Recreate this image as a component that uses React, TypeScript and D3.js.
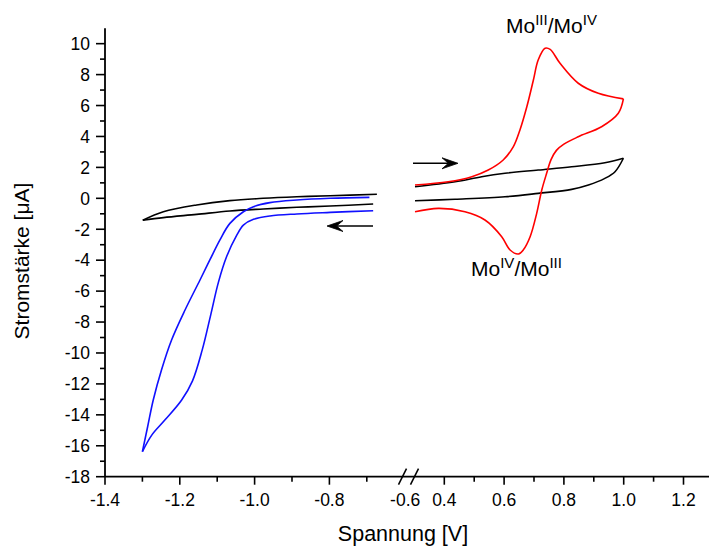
import React from "react";
import * as d3 from "d3";

// ---- Data (Spannung V, Stromstärke µA) ----
const blackLeftUpperV = [-0.673, -0.798, -0.887, -0.977, -1.066, -1.155, -1.244, -1.299];
const blackLeftUpperI = [0.26, 0.17, 0.10, 0.0, -0.15, -0.43, -0.87, -1.42];
const blackLeftLowerV = [-1.299, -1.244, -1.155, -1.066, -0.977, -0.887, -0.798, -0.683];
const blackLeftLowerI = [-1.42, -1.25, -1.04, -0.82, -0.69, -0.58, -0.50, -0.37];

const blueOuterV = [-0.693, -0.798, -0.887, -0.959, -1.003, -1.03, -1.066, -1.093, -1.119, -1.146, -1.186, -1.222, -1.249, -1.271, -1.286, -1.3];
const blueOuterI = [0.06, 0.0, -0.11, -0.28, -0.54, -0.87, -1.62, -2.7, -3.95, -5.28, -7.22, -9.16, -11.1, -13.04, -14.77, -16.38];
const blueInnerV = [-0.683, -0.798, -0.887, -0.959, -1.003, -1.03, -1.048, -1.075, -1.097, -1.117, -1.14, -1.166, -1.195, -1.24, -1.275, -1.3];
const blueInnerI = [-0.8, -0.91, -1.01, -1.14, -1.36, -1.73, -2.4, -3.78, -5.45, -7.5, -9.8, -11.8, -13.04, -14.34, -15.31, -16.38];

const redFwdV = [0.302, 0.413, 0.492, 0.547, 0.597, 0.631, 0.653, 0.676, 0.698, 0.714, 0.737, 0.754, 0.787, 0.848, 0.915, 0.999];
const redFwdI = [0.86, 1.07, 1.4, 1.83, 2.48, 3.34, 4.42, 5.92, 7.65, 8.94, 9.7, 9.63, 8.73, 7.44, 6.79, 6.43];
const redRevV = [0.999, 0.982, 0.926, 0.848, 0.8, 0.775, 0.757, 0.742, 0.726, 0.709, 0.687, 0.664, 0.648, 0.62, 0.592, 0.536, 0.469, 0.38, 0.302];
const redRevI = [6.43, 5.5, 4.63, 3.98, 3.5, 3.1, 2.5, 1.6, 0.54, -0.97, -2.48, -3.34, -3.6, -3.34, -2.48, -1.4, -0.87, -0.65, -0.87];

const blackRightFwdV = [0.302, 0.436, 0.525, 0.603, 0.714, 0.826, 0.937, 0.999];
const blackRightFwdI = [0.75, 1.07, 1.4, 1.62, 1.83, 2.04, 2.3, 2.59];
const blackRightRevV = [0.999, 0.971, 0.937, 0.882, 0.826, 0.714, 0.603, 0.436, 0.302];
const blackRightRevI = [2.59, 1.72, 1.29, 0.86, 0.58, 0.32, 0.1, -0.06, -0.16];

const leftTicksMajor = [-1.4, -1.2, -1.0, -0.8];
const leftTicksMinor = [-1.3, -1.1, -0.9, -0.7];
const rightTicksMajor = [0.4, 0.6, 0.8, 1.0, 1.2];
const rightTicksMinor = [0.5, 0.7, 0.9, 1.1];
const yTicksMajor = [-18, -16, -14, -12, -10, -8, -6, -4, -2, 0, 2, 4, 6, 8, 10];
const yTicksMinor = [-17, -15, -13, -11, -9, -7, -5, -3, -1, 1, 3, 5, 7, 9];

const FONT = "'Liberation Sans', Arial, sans-serif";

export default function App() {
  const W = 709, H = 550;
  const xL = d3.scaleLinear().domain([-1.4, -0.6]).range([105, 404.2]);
  const xR = d3.scaleLinear().domain([0.3, 1.3]).range([414.4, 713.4]);
  const y = d3.scaleLinear().domain([-18, 11]).range([476.7, 28.2]);
  const y0 = y(-18);

  const mk = (xs: d3.ScaleLinear<number, number>, V: number[], I: number[]) =>
    d3.line<number>()
      .x((_, i) => xs(V[i]))
      .y((_, i) => y(I[i]))
      .curve(d3.curveCatmullRom.alpha(0.5))(V) || "";

  const arrow = (tipX: number, tipY: number, tailX: number) => {
    const dir = tailX > tipX ? 1 : -1;
    const L = 16, w = 5.5;
    const head = `M${tipX},${tipY} L${tipX + dir * L},${tipY - w} L${tipX + dir * L * 0.6},${tipY} L${tipX + dir * L},${tipY + w} Z`;
    return (
      <g>
        <line x1={tipX + dir * L * 0.6} y1={tipY} x2={tailX} y2={tipY} stroke="#000" strokeWidth={1.6} />
        <path d={head} fill="#000" stroke="#000" strokeWidth={0.8} strokeLinejoin="miter" />
      </g>
    );
  };

  const fmt = (v: number) => v.toFixed(1);

  return (
    <svg width={W} height={H} style={{ position: "absolute", left: 0, top: 0, background: "#fff" }} fontFamily={FONT}>
      {/* curves */}
      <g fill="none" strokeWidth={1.6} strokeLinejoin="round">
        <path d={mk(xL, blackLeftUpperV, blackLeftUpperI)} stroke="#000" />
        <path d={mk(xL, blackLeftLowerV, blackLeftLowerI)} stroke="#000" />
        <path d={mk(xL, blueOuterV, blueOuterI)} stroke="#1010ff" />
        <path d={mk(xL, blueInnerV, blueInnerI)} stroke="#1010ff" />
        <path d={mk(xR, blackRightFwdV, blackRightFwdI)} stroke="#000" />
        <path d={mk(xR, blackRightRevV, blackRightRevI)} stroke="#000" />
        <path d={mk(xR, redFwdV, redFwdI)} stroke="#ff0000" />
        <path d={mk(xR, redRevV, redRevI)} stroke="#ff0000" />
      </g>

      {/* Y axis */}
      <line x1={105} x2={105} y1={y(11)} y2={y0} stroke="#000" strokeWidth={1.8} />
      {yTicksMajor.map((t) => (
        <g key={"ym" + t}>
          <line x1={96} x2={105} y1={y(t)} y2={y(t)} stroke="#000" strokeWidth={1.6} />
          <text x={90} y={y(t)} dy="0.36em" textAnchor="end" fontSize={17.5}>{t}</text>
        </g>
      ))}
      {yTicksMinor.map((t) => (
        <line key={"yn" + t} x1={100} x2={105} y1={y(t)} y2={y(t)} stroke="#000" strokeWidth={1.6} />
      ))}

      {/* X axis */}
      <line x1={105} x2={713} y1={y0} y2={y0} stroke="#000" strokeWidth={1.8} />
      {leftTicksMajor.map((t) => (
        <g key={"xl" + t}>
          <line x1={xL(t)} x2={xL(t)} y1={y0} y2={y0 + 8} stroke="#000" strokeWidth={1.6} />
          <text x={xL(t)} y={506} textAnchor="middle" fontSize={17.5}>{fmt(t)}</text>
        </g>
      ))}
      {leftTicksMinor.map((t) => (
        <line key={"xln" + t} x1={xL(t)} x2={xL(t)} y1={y0} y2={y0 + 5} stroke="#000" strokeWidth={1.6} />
      ))}
      <text x={xL(-0.6) + 1} y={506} textAnchor="middle" fontSize={17.5}>-0.6</text>
      {rightTicksMajor.map((t) => (
        <g key={"xr" + t}>
          <line x1={xR(t)} x2={xR(t)} y1={y0} y2={y0 + 8} stroke="#000" strokeWidth={1.6} />
          <text x={xR(t)} y={506} textAnchor="middle" fontSize={17.5}>{fmt(t)}</text>
        </g>
      ))}
      {rightTicksMinor.map((t) => (
        <line key={"xrn" + t} x1={xR(t)} x2={xR(t)} y1={y0} y2={y0 + 5} stroke="#000" strokeWidth={1.6} />
      ))}
      {/* axis break marks */}
      <line x1={398.5} y1={y0 + 8} x2={406.5} y2={y0 - 8} stroke="#000" strokeWidth={1.6} />
      <line x1={410.5} y1={y0 + 8} x2={418.5} y2={y0 - 8} stroke="#000" strokeWidth={1.6} />

      {/* axis titles */}
      <text x={403} y={541} textAnchor="middle" fontSize={21.5}>Spannung [V]</text>
      <text transform="translate(29,261) rotate(-90)" textAnchor="middle" fontSize={21}>Stromstärke [μA]</text>

      {/* annotations */}
      <text x={506} y={33} fontSize={21}>
        Mo<tspan fontSize={15} dy={-8}>III</tspan><tspan dy={8}>/Mo</tspan><tspan fontSize={15} dy={-8}>IV</tspan>
      </text>
      <text x={471} y={276} fontSize={21}>
        Mo<tspan fontSize={15} dy={-8}>IV</tspan><tspan dy={8}>/Mo</tspan><tspan fontSize={15} dy={-8}>III</tspan>
      </text>

      {/* arrows */}
      {arrow(327, 226, 373)}
      {arrow(458, 163.3, 413)}
    </svg>
  );
}
